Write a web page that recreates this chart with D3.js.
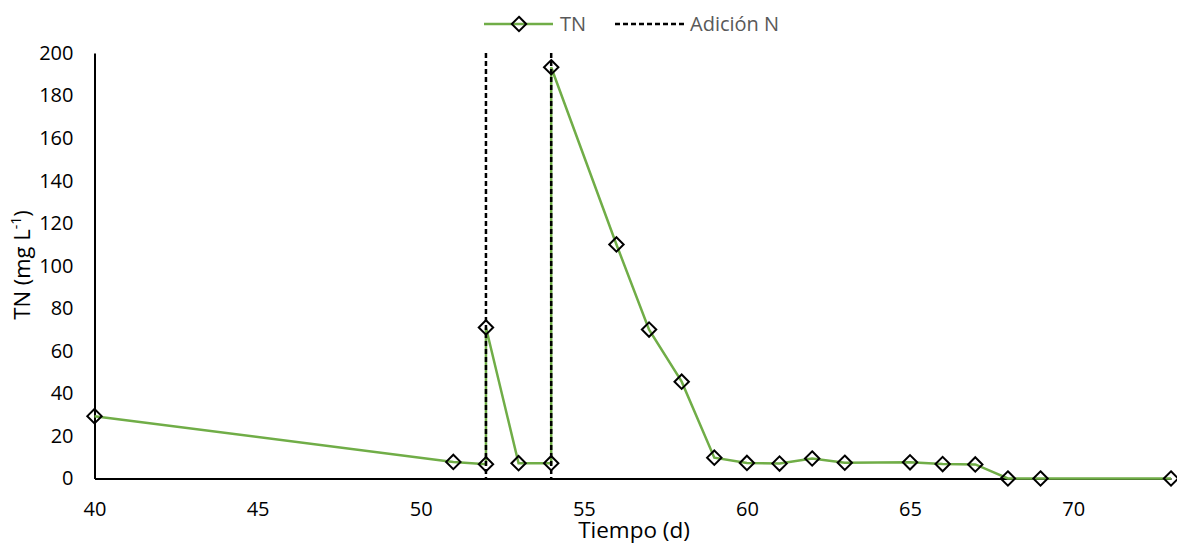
<!DOCTYPE html>
<html>
<head>
<meta charset="utf-8">
<script src="https://cdn.jsdelivr.net/npm/d3@7"></script>
<style>
  html, body { margin: 0; padding: 0; background: #fff; }
  svg { display: block; font-family: "Open Sans", "Noto Sans", sans-serif; }
</style>
</head>
<body>
<svg id="chart" width="1177" height="546"></svg>
<script>
// Data
const tnDays   = [40, 51, 52, 52, 53, 54, 54, 56, 57, 58, 59, 60, 61, 62, 63, 65, 66, 67, 68, 69, 73];
const tnValues = [29.3, 7.8, 6.7, 71, 7.2, 7.2, 193.3, 110, 70, 45.5, 9.8, 7.3, 7.0, 9.4, 7.4, 7.6, 6.8, 6.6, 0, 0, 0];
const additionDays = [52, 54];
const xTicks = [40, 45, 50, 55, 60, 65, 70];
const yTicks = [0, 20, 40, 60, 80, 100, 120, 140, 160, 180, 200];

const svg = d3.select("#chart");
const mLeft = 94.5, mRight = 1171, mTop = 53, mBottom = 478.5;

const x = d3.scaleLinear().domain([40, 73]).range([mLeft, mRight]);
const y = d3.scaleLinear().domain([0, 200]).range([mBottom, mTop]);

// Axes
const xAxis = d3.axisBottom(x).tickValues(xTicks).tickSize(0).tickPadding(23).tickFormat(d3.format("d"));
const gx = svg.append("g").attr("transform", `translate(0,${mBottom})`).call(xAxis);
gx.select(".domain").attr("stroke", "#000").attr("stroke-width", 2);
gx.selectAll("text").attr("font-size", 20).attr("fill", "#000").attr("font-family", "'Open Sans', sans-serif");

const yAxis = d3.axisLeft(y).tickValues(yTicks).tickSize(0).tickPadding(21);
const gy = svg.append("g").attr("transform", `translate(${mLeft},0)`).call(yAxis);
gy.select(".domain").attr("stroke", "#000").attr("stroke-width", 2);
gy.selectAll("text").attr("font-size", 20).attr("fill", "#000").attr("font-family", "'Open Sans', sans-serif");

// TN line
const pts = tnDays.map((d, i) => [d, tnValues[i]]);
svg.append("path").datum(pts)
  .attr("fill", "none").attr("stroke", "#70AD47").attr("stroke-width", 2.5)
  .attr("d", d3.line().x(d => x(d[0])).y(d => y(d[1])));

// Markers
const diamond = s => `M0,${-s}L${s},0L0,${s}L${-s},0Z`;
svg.append("g").selectAll("path").data(pts).join("path")
  .attr("transform", d => `translate(${x(d[0])},${y(d[1])})`)
  .attr("d", diamond(7.2))
  .attr("fill", "none").attr("stroke", "#000").attr("stroke-width", 2);

// Addition lines (drawn on top)
svg.append("g").selectAll("line").data(additionDays).join("line")
  .attr("x1", d => x(d)).attr("x2", d => x(d))
  .attr("y1", y(200)).attr("y2", y(0))
  .attr("stroke", "#000").attr("stroke-width", 2.5).attr("stroke-dasharray", "5,3");

// Axis titles
svg.append("text").attr("x", 634).attr("y", 538)
  .attr("text-anchor", "middle").attr("font-size", 22.5).attr("fill", "#000")
  .text("Tiempo (d)");

const yt = svg.append("text").attr("transform", "translate(30,265) rotate(-90)")
  .attr("text-anchor", "middle").attr("font-size", 22).attr("fill", "#000");
yt.append("tspan").text("TN (mg L");
yt.append("tspan").attr("dy", -9).attr("font-size", 14).text("-1");
yt.append("tspan").attr("dy", 9).text(")");

// Legend
const lg = svg.append("g");
lg.append("line").attr("x1", 484).attr("x2", 553).attr("y1", 24).attr("y2", 24)
  .attr("stroke", "#70AD47").attr("stroke-width", 2.5);
lg.append("path").attr("transform", "translate(519,24)").attr("d", diamond(7.2))
  .attr("fill", "none").attr("stroke", "#000").attr("stroke-width", 2);
lg.append("text").attr("x", 560).attr("y", 31).attr("font-size", 20).attr("fill", "#595959").text("TN");
lg.append("line").attr("x1", 615).attr("x2", 684).attr("y1", 24).attr("y2", 24)
  .attr("stroke", "#000").attr("stroke-width", 2.5).attr("stroke-dasharray", "5,3");
lg.append("text").attr("x", 690).attr("y", 31).attr("font-size", 20).attr("fill", "#595959").text("Adición N");
</script>
</body>
</html>
